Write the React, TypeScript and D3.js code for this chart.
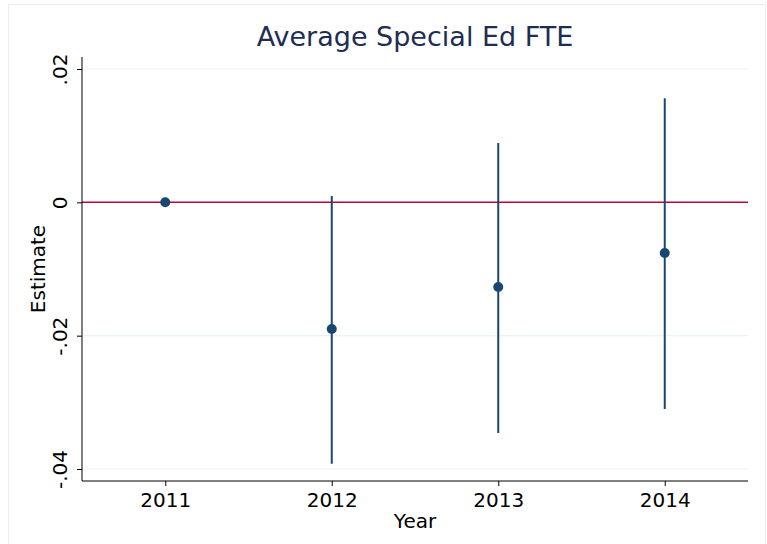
import React, { useEffect, useRef } from 'react';
import * as d3 from 'd3';

const years = [2011, 2012, 2013, 2014];
const estimates = [0, -0.019, -0.0127, -0.0076];
const lower = [0, -0.0392, -0.0346, -0.031];
const upper = [0, 0.00095, 0.0089, 0.0156];
const yTicks = [-0.04, -0.02, 0, 0.02];
const yTickLabels = ['-.04', '-.02', '0', '.02'];

const W = 767, H = 544;
const navy = '#1a476f';

export default function App() {
  const ref = useRef<SVGSVGElement>(null);

  useEffect(() => {
    const svg = d3.select(ref.current);
    svg.selectAll('*').remove();

    const left = 82, right = 748, top = 57, bottom = 481;

    const x = d3.scaleLinear().domain([2010.5, 2014.5]).range([left, right]);
    const y = d3.scaleLinear().domain([-0.04, 0.02]).range([469, 69]);

    // outer frame
    svg.append('rect')
      .attr('x', 8.5).attr('y', 4.5)
      .attr('width', 757).attr('height', 545)
      .attr('fill', 'white')
      .attr('stroke', '#e8eff1');

    // grid
    yTicks.forEach(t => {
      svg.append('line')
        .attr('x1', left).attr('x2', right)
        .attr('y1', y(t)).attr('y2', y(t))
        .style('stroke', '#eaf2f3')
        .style('stroke-width', 1.2);
    });

    // reference line at zero
    svg.append('line')
      .attr('x1', left).attr('x2', right)
      .attr('y1', y(0)).attr('y2', y(0))
      .style('stroke', '#c10534')
      .style('stroke-width', 1.5);

    // CIs
    years.forEach((yr, i) => {
      if (lower[i] === upper[i]) return;
      svg.append('line')
        .attr('x1', x(yr)).attr('x2', x(yr))
        .attr('y1', y(lower[i])).attr('y2', y(upper[i]))
        .style('stroke', navy)
        .style('stroke-width', 2);
    });

    // points
    svg.selectAll('circle.pt')
      .data(years)
      .enter().append('circle')
      .attr('class', 'pt')
      .attr('cx', d => x(d))
      .attr('cy', (d, i) => y(estimates[i]))
      .attr('r', 5)
      .attr('fill', navy);

    // axes
    const yAxis = d3.axisLeft(y)
      .tickValues(yTicks)
      .tickSize(5)
      .tickFormat((d, i) => yTickLabels[i]);
    const ga = svg.append('g')
      .attr('transform', 'translate(' + left + ',0)')
      .call(yAxis);
    ga.select('.domain').attr('d', 'M0,' + top + 'V' + bottom).style('stroke', '#000');
    ga.selectAll('.tick line').style('stroke', '#000');
    ga.selectAll('.tick text')
      .attr('transform', 'rotate(-90)')
      .attr('x', 0).attr('y', -15)
      .attr('dy', 0)
      .style('text-anchor', 'middle')
      .style('font-family', 'DejaVu Sans')
      .style('font-size', '20px')
      .style('fill', '#000');

    const xAxis = d3.axisBottom(x)
      .tickValues(years)
      .tickSize(5)
      .tickFormat(d3.format('d'));
    const gx = svg.append('g')
      .attr('transform', 'translate(0,' + bottom + ')')
      .call(xAxis);
    gx.select('.domain').attr('d', 'M' + left + ',0H' + right).style('stroke', '#000');
    gx.selectAll('.tick line').style('stroke', '#000');
    gx.selectAll('.tick text')
      .attr('y', 26)
      .attr('dy', 0)
      .style('font-family', 'DejaVu Sans')
      .style('font-size', '20px')
      .style('fill', '#000');

    // labels
    svg.append('text')
      .attr('x', (left + right) / 2).attr('y', 528)
      .attr('text-anchor', 'middle')
      .style('font-family', 'DejaVu Sans')
      .style('font-size', '20px')
      .text('Year');

    svg.append('text')
      .attr('transform', 'translate(45,' + ((top + bottom) / 2) + ') rotate(-90)')
      .attr('text-anchor', 'middle')
      .style('font-family', 'DejaVu Sans')
      .style('font-size', '20px')
      .text('Estimate');

    svg.append('text')
      .attr('x', (left + right) / 2).attr('y', 46)
      .attr('text-anchor', 'middle')
      .style('font-family', 'DejaVu Sans')
      .style('font-size', '27px')
      .style('fill', '#1e2d53')
      .text('Average Special Ed FTE');
  }, []);

  return (
    <svg ref={ref} width={W} height={H}
      style={{ position: 'absolute', left: 0, top: 0, background: 'white' }} />
  );
}
